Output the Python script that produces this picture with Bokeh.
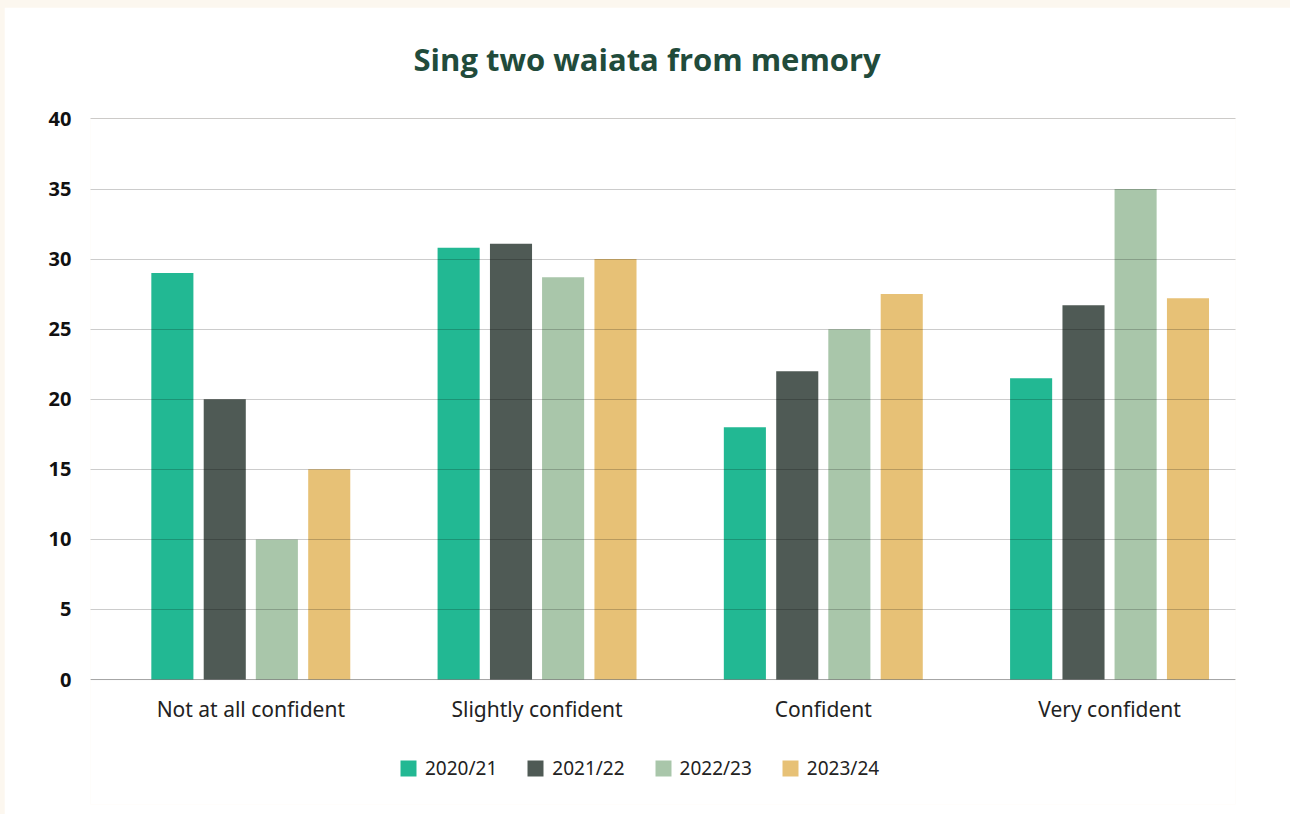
from bokeh.plotting import figure
from bokeh.models import ColumnDataSource, Legend, LegendItem, Title, FactorRange, Range1d, Span
from bokeh.transform import dodge
from bokeh.embed import file_html
from bokeh.resources import INLINE

categories = ["Not at all confident", "Slightly confident", "Confident", "Very confident"]
years = ["2020/21", "2021/22", "2022/23", "2023/24"]
v2020 = [29.0, 30.8, 18.0, 21.5]
v2021 = [20.0, 31.1, 22.0, 26.7]
v2022 = [10.0, 28.7, 25.0, 35.0]
v2023 = [15.0, 30.0, 27.5, 27.2]
colors = ["#22b893", "#4f5a55", "#a9c6aa", "#e7c176"]
yticks = [0, 5, 10, 15, 20, 25, 30, 35, 40]

source = ColumnDataSource(data=dict(cat=categories, a=v2020, b=v2021, c=v2022, d=v2023,
                                     zero=[0] * len(categories)))

# frame spans 118..804 px; 0 sits at 679 px, 40 at 118 px
p = figure(x_range=FactorRange(*categories), y_range=Range1d(-8.913, 40.03),
           width=1286, height=807, output_backend="svg", toolbar_location=None,
           min_border_left=86, min_border_right=55, min_border_top=111, min_border_bottom=10)

shift = 0.06
offsets = [-0.274, -0.091, 0.091, 0.274]
renderers = []
for key, off, col in zip(["a", "b", "c", "d"], offsets, colors):
    r = p.vbar(x=dodge("cat", off + shift, range=p.x_range), top=key, width=0.147, source=source,
               fill_color=col, line_color=None)
    renderers.append(r)

# category labels under the baseline
p.text(x=dodge("cat", shift, range=p.x_range), y="zero", text="cat", source=source, y_offset=29,
       text_align="center", text_baseline="middle", text_font={"value": "Noto Sans"},
       text_font_size="21px", text_color="#222222")

# spacer between frame and title
spacer = Title(text=" ", text_font_size="1px", standoff=36)
p.add_layout(spacer, "above")
title = Title(text="Sing two waiata from memory", align="left", text_font="Open Sans",
              text_font_style="bold", text_font_size="31px", text_color="#214b3b",
              standoff=0, offset=323)
p.add_layout(title, "above")

p.background_fill_color = "white"
p.border_fill_color = "white"
p.outline_line_color = None

p.xgrid.grid_line_color = None
p.ygrid.grid_line_color = "#000000"
p.ygrid.grid_line_alpha = 0.2
p.ygrid.level = "overlay"
p.yaxis.ticker = yticks

baseline = Span(location=0, dimension="width", line_color="#000000", line_alpha=0.2,
                line_width=1, level="overlay")
p.add_layout(baseline)

p.yaxis.axis_line_color = None
p.yaxis.major_tick_line_color = None
p.yaxis.minor_tick_line_color = None
p.yaxis.major_label_text_font = "Noto Sans"
p.yaxis.major_label_text_font_style = "bold"
p.yaxis.major_label_text_font_size = "20px"
p.yaxis.major_label_text_color = "#111111"
p.yaxis.major_label_standoff = 13

p.xaxis.visible = False

legend = Legend(items=[LegendItem(label=y, renderers=[r]) for y, r in zip(years, renderers)],
                orientation="horizontal", location=(308, 23), padding=0, margin=0,
                glyph_width=20, glyph_height=20, label_height=20, label_standoff=7, spacing=28,
                label_text_font="Noto Sans", label_text_font_size="19px",
                label_text_color="#222222", border_line_color=None, background_fill_alpha=0)
p.add_layout(legend, "center")

html = file_html(p, INLINE)
html = html.replace("<head>", "<head><style>body{background:#fcf7ef !important; padding:7px 0 0 4px !important;}</style>", 1)
open("out.html", "w").write(html)
